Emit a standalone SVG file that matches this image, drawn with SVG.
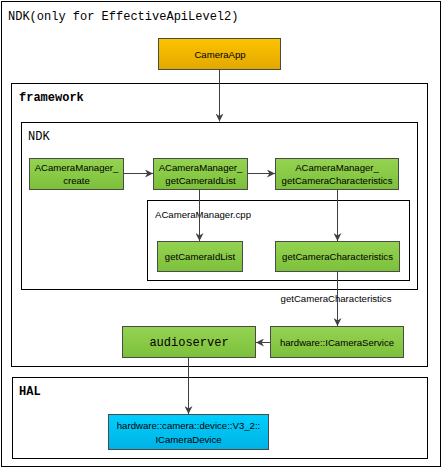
<svg xmlns="http://www.w3.org/2000/svg" width="443" height="469" viewBox="0 0 443 469">
<style>
.frame{fill:#fff;stroke:#000;stroke-width:1}
.green{fill:url(#gG);stroke:#4a4a4a;stroke-width:1}
.t{font-family:"Liberation Sans",Arial,sans-serif;font-size:9.6px;fill:#000;text-anchor:middle}
.m{font-family:"Liberation Mono","DejaVu Sans Mono",monospace;font-size:12px;fill:#000}
.b{font-family:"Liberation Mono","DejaVu Sans Mono",monospace;font-weight:bold;font-size:12px;fill:#000}
.c{stroke:#404040;stroke-width:1;fill:none;marker-end:url(#ah)}
</style>
<defs>
<linearGradient id="gG" x1="0" y1="0" x2="0" y2="1"><stop offset="0" stop-color="#95D352"/><stop offset="1" stop-color="#7CC03A"/></linearGradient>
<linearGradient id="gO" x1="0" y1="0" x2="0" y2="1"><stop offset="0" stop-color="#FCC300"/><stop offset="1" stop-color="#E3A800"/></linearGradient>
<linearGradient id="gB" x1="0" y1="0" x2="0" y2="1"><stop offset="0" stop-color="#00CFFF"/><stop offset="1" stop-color="#00B2E4"/></linearGradient>
<marker id="ah" viewBox="0 0 10 10" refX="10" refY="5" markerWidth="8" markerHeight="8" orient="auto" markerUnits="userSpaceOnUse"><path d="M0,0 L10,5 L0,10 L3,5 Z" fill="#404040"/></marker>
</defs>
<rect width="443" height="469" fill="#fff"/>
<g id="outer"><rect class="frame" x="1.5" y="1.5" width="439" height="465"/><text class="m" x="8" y="20">NDK(only for EffectiveApiLevel2)</text></g>
<g id="framework"><rect class="frame" x="11.5" y="83.5" width="416" height="283"/><text class="b" x="19" y="101">framework</text></g>
<g id="ndk"><rect class="frame" x="21.5" y="122.5" width="396" height="167"/><text class="m" x="28" y="140">NDK</text></g>
<g id="cpp"><rect class="frame" x="147.5" y="200.5" width="262" height="80"/><text class="t" x="155" y="218" style="text-anchor:start">ACameraManager.cpp</text></g>
<g id="hal"><rect class="frame" x="12.5" y="377.5" width="415" height="81"/><text class="b" x="19" y="395">HAL</text></g>
<g id="cameraapp"><rect x="158.5" y="38.5" width="122" height="31" fill="url(#gO)" stroke="#4a4a4a"/><text class="t" x="220" y="57.5">CameraApp</text></g>
<g id="create"><rect class="green" x="29.5" y="158.5" width="94" height="31"/><text class="t" x="76.5" y="170.5">ACameraManager_</text><text class="t" x="76.5" y="184">create</text></g>
<g id="getIdList"><rect class="green" x="153.5" y="158.5" width="94" height="31"/><text class="t" x="200.5" y="170.5">ACameraManager_</text><text class="t" x="200.5" y="184">getCameraIdList</text></g>
<g id="getChars"><rect class="green" x="275.5" y="158.5" width="123" height="31"/><text class="t" x="337" y="170.5">ACameraManager_</text><text class="t" x="337" y="184">getCameraCharacteristics</text></g>
<g id="getIdList2"><rect class="green" x="157.5" y="241.5" width="85" height="30"/><text class="t" x="200" y="260">getCameraIdList</text></g>
<g id="getChars2"><rect class="green" x="275.5" y="241.5" width="124" height="30"/><text class="t" x="337.5" y="260">getCameraCharacteristics</text></g>
<g id="icameraservice"><rect class="green" x="270.5" y="326.5" width="133" height="31"/><text class="t" x="337" y="345.5">hardware::ICameraService</text></g>
<g id="audioserver"><rect class="green" x="122.5" y="326.5" width="133" height="31"/><text class="m" x="189" y="346" text-anchor="middle">audioserver</text></g>
<g id="icameradevice"><rect x="108.5" y="414.5" width="160" height="35" fill="url(#gB)" stroke="#4a4a4a"/><text class="t" x="188.5" y="428.5">hardware::camera::device::V3_2::</text><text class="t" x="188.5" y="442.5">ICameraDevice</text></g>
<g id="connectors">
<path class="c" d="M219.5,69.5 V121.5"/>
<path class="c" d="M123.5,173.5 H153"/>
<path class="c" d="M247.5,173.5 H275"/>
<path class="c" d="M199.5,189.5 V241"/>
<path class="c" d="M337.5,189.5 V241"/>
<path class="c" d="M337.5,271.5 V326"/>
<path class="c" d="M270.5,342.5 H256"/>
<path class="c" d="M188.5,357.5 V414"/>
<text class="t" x="336" y="302">getCameraCharacteristics</text>
</g>
</svg>
